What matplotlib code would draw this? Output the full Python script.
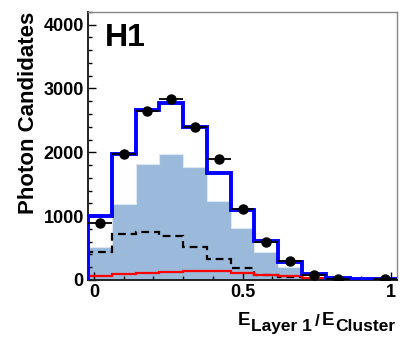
import matplotlib
matplotlib.use("Agg")
import matplotlib.pyplot as plt
import numpy as np

plt.rcParams.update({
    "font.family": ["Liberation Sans", "DejaVu Sans"],
    "font.weight": "bold",
})

# 13 bins of width 0.08 from -0.02 to 1.02
edges = [-0.02, 0.06, 0.14, 0.22, 0.30, 0.38, 0.46, 0.54, 0.62, 0.70, 0.78, 0.86, 0.94, 1.02]
centers = [0.02, 0.10, 0.18, 0.26, 0.34, 0.42, 0.50, 0.58, 0.66, 0.74, 0.82, 0.90, 0.98]

total_mc = [1000, 1980, 2670, 2780, 2395, 1680, 1090, 610, 285, 95, 30, 8, 8]
signal = [520, 1183, 1823, 1980, 1775, 1237, 808, 445, 208, 52, 15, 5, 4]
background = [443, 714, 755, 687, 510, 323, 182, 78, 50, 25, 8, 4, 3]
other_bg = [62, 94, 104, 130, 146, 146, 115, 78, 60, 30, 10, 4, 3]

data = [885, 1980, 2640, 2830, 2395, 1900, 1112, 598, 297, 85, 16, np.nan, 10]
data_err = [30, 45, 50, 55, 50, 45, 35, 25, 18, 10, 5, 0, 3]
half_width = 0.04

fig = plt.figure(figsize=(4.15, 3.40), dpi=100)
ax = fig.add_axes([0.212, 0.1765, 0.745, 0.7885])

ax.stairs(signal, edges, fill=True, color="#9bbadb", zorder=1)
ax.stairs(signal, edges, color="#dde7f2", lw=0.8, zorder=1.5)
ax.stairs(background, edges, color="black", lw=1.6,
          linestyle=(0, (3.5, 2.2)), zorder=2)
ax.stairs(other_bg, edges, color="#ff0000", lw=1.6, zorder=2.5)
ax.stairs(total_mc, edges, color="#0000ff", lw=2.8, zorder=3)
ax.errorbar(centers, data, xerr=half_width, yerr=data_err, fmt="o",
            color="black", ms=6.5, elinewidth=1.3, capsize=0, zorder=4)

ax.set_xlim(-0.02, 1.02)
ax.set_ylim(0, 4200)
ax.set_xticks([0, 0.5, 1])
ax.set_xticklabels(["0", "0.5", "1"])
ax.set_xticks(np.arange(0, 1.01, 0.1), minor=True)
ax.set_yticks([0, 1000, 2000, 3000, 4000])
ax.set_yticks(np.arange(0, 4201, 200), minor=True)
ax.tick_params(which="both", direction="in", labelsize=13, width=1)
ax.tick_params(which="major", length=6)
ax.tick_params(which="minor", length=3)
ax.tick_params(axis="x", pad=3)
ax.tick_params(axis="y", pad=3)

for side in ("left", "bottom"):
    ax.spines[side].set_color("#222222")
    ax.spines[side].set_linewidth(1.4)
for side in ("top", "right"):
    ax.spines[side].set_color("#888888")
    ax.spines[side].set_linewidth(1.0)

ax.set_ylabel("Photon Candidates", fontsize=16, fontweight="bold", loc="top")
ax.yaxis.set_label_coords(-0.16, 1.0)

# x title built ROOT-style: big E with lowered, slightly smaller subscripts
big, small = 13.5, 12.5
t1 = fig.text(238 / 415, 1 - 325 / 340, "E", fontsize=big, ha="left", va="baseline")
t2 = ax.annotate("Layer 1", xy=(1, 0), xycoords=t1, xytext=(0.5, -3.5),
                 textcoords="offset points", fontsize=small, va="bottom")
t3 = ax.annotate("/", xy=(1, 0), xycoords=t2, xytext=(2, 3.5),
                 textcoords="offset points", fontsize=small, va="bottom")
t4 = ax.annotate("E", xy=(1, 0), xycoords=t3, xytext=(1.5, 0),
                 textcoords="offset points", fontsize=big, va="bottom")
ax.annotate("Cluster", xy=(1, 0), xycoords=t4, xytext=(0.5, -3.5),
            textcoords="offset points", fontsize=small, va="bottom")

ax.text(0.055, 0.96, "H1", transform=ax.transAxes, ha="left", va="top",
        fontsize=23, fontweight="bold")

fig.savefig("out.png", dpi=100)
